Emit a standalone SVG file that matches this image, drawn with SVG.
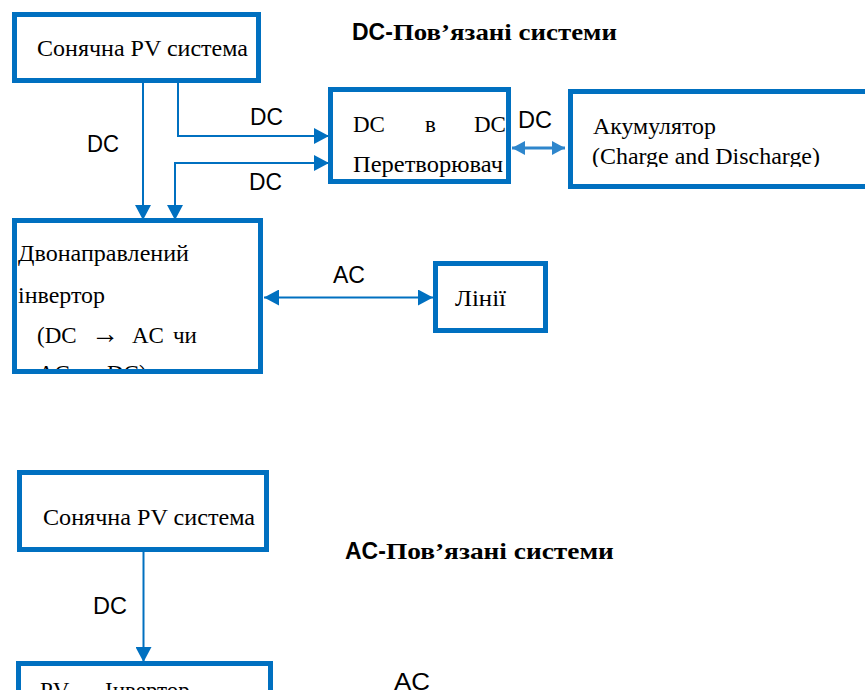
<svg xmlns="http://www.w3.org/2000/svg" width="865" height="690" viewBox="0 0 865 690">
<style>
.box{fill:#fff;stroke:#0070C0;stroke-width:5}
.ln{fill:none;stroke:#0070C0;stroke-width:2}
.ser{font-family:"Liberation Serif","DejaVu Serif","Times New Roman",serif;font-size:23px;fill:#000}
.sans{font-family:"Liberation Sans",Arial,sans-serif;font-size:23px;fill:#000}
.tb{font-family:"Liberation Serif","DejaVu Serif","Times New Roman",serif;font-weight:bold;font-size:23px;fill:#000}
.sb{font-family:"Liberation Sans",Arial,sans-serif;font-weight:bold;font-size:23px;fill:#000}
</style>
<defs>
<marker id="ah" markerUnits="userSpaceOnUse" markerWidth="16" markerHeight="16" viewBox="0 0 16 16" refX="15" refY="8" orient="auto-start-reverse">
<path d="M0,0 L15,8 L0,16 Z" fill="#0070C0"/>
</marker>
<marker id="ahs" markerUnits="userSpaceOnUse" markerWidth="14" markerHeight="14" viewBox="0 0 14 14" refX="13" refY="7" orient="auto-start-reverse">
<path d="M0,0 L13,7 L0,14 Z" fill="#2E86CC"/>
</marker>
<clipPath id="invClip"><rect x="17" y="223" width="241" height="146"/></clipPath>
<clipPath id="accClip"><rect x="573" y="94" width="300" height="73"/></clipPath>
<clipPath id="pvClip"><rect x="21" y="666" width="248" height="30"/></clipPath>
</defs>

<text class="sb" x="352" y="40">DC-<tspan class="tb" textLength="224" lengthAdjust="spacingAndGlyphs">Пов’язані системи</tspan></text>
<text class="sb" x="345" y="559">AC-<tspan class="tb" textLength="228" lengthAdjust="spacingAndGlyphs">Пов’язані системи</tspan></text>

<g id="connectors">
<line class="ln" x1="143" y1="83" x2="143" y2="220" marker-end="url(#ah)"/>
<polyline class="ln" points="178,83 178,136 329,136" marker-end="url(#ah)"/>
<polyline class="ln" points="329,163 175,163 175,220" marker-start="url(#ah)" marker-end="url(#ah)"/>
<line x1="512" y1="148" x2="565" y2="148" stroke="#2E86CC" stroke-width="3" marker-start="url(#ahs)" marker-end="url(#ahs)"/>
<line class="ln" x1="264" y1="297.5" x2="433" y2="297.5" marker-start="url(#ah)" marker-end="url(#ah)"/>
<line class="ln" x1="143.5" y1="552" x2="143.5" y2="662" marker-end="url(#ah)"/>
<text class="sans" x="87" y="152" textLength="32" lengthAdjust="spacingAndGlyphs">DC</text>
<text class="sans" x="250" y="125" textLength="33" lengthAdjust="spacingAndGlyphs">DC</text>
<text class="sans" x="249" y="190" textLength="33" lengthAdjust="spacingAndGlyphs">DC</text>
<text class="sans" x="518" y="128" textLength="34" lengthAdjust="spacingAndGlyphs">DC</text>
<text class="sans" x="333" y="283" textLength="32" lengthAdjust="spacingAndGlyphs">AC</text>
<text class="sans" x="93" y="614" textLength="34" lengthAdjust="spacingAndGlyphs">DC</text>
<text class="sans" x="394" y="690" textLength="36" lengthAdjust="spacingAndGlyphs">AC</text>
</g>

<g id="pv-top">
<rect class="box" x="14.5" y="14.5" width="244" height="66"/>
<text class="ser" x="37" y="56" textLength="211" lengthAdjust="spacingAndGlyphs">Сонячна PV система</text>
</g>

<g id="dcdc">
<rect class="box" x="330.5" y="89.5" width="178" height="92"/>
<text class="ser" x="353" y="132"><tspan x="353">DC</tspan><tspan x="425">в</tspan><tspan x="474">DC</tspan></text>
<text class="ser" x="353" y="172" textLength="150" lengthAdjust="spacingAndGlyphs">Перетворювач</text>
</g>

<g id="accumulator">
<rect class="box" x="570.5" y="91.5" width="320" height="95"/>
<text class="ser" x="593" y="134" textLength="123" lengthAdjust="spacingAndGlyphs">Акумулятор</text>
<g clip-path="url(#accClip)">
<text class="ser" x="592" y="164" textLength="228" lengthAdjust="spacingAndGlyphs">(Charge and Discharge)</text>
</g>
</g>

<g id="inverter">
<rect class="box" x="14.5" y="220.5" width="246" height="151"/>
<g clip-path="url(#invClip)">
<text class="ser" x="18" y="261" textLength="171" lengthAdjust="spacingAndGlyphs">Двонаправлений</text>
<text class="ser" x="18" y="303" textLength="87" lengthAdjust="spacingAndGlyphs">інвертор</text>
<text class="ser" y="343"><tspan x="37">(DC</tspan><tspan x="91" font-size="28">→</tspan><tspan x="132">AC</tspan><tspan x="173">чи</tspan></text>
<text class="ser" y="381"><tspan x="38">AC</tspan><tspan x="79" font-size="28">→</tspan><tspan x="107">DC)</tspan></text>
</g>
</g>

<g id="lines">
<rect class="box" x="435.5" y="263.5" width="110" height="67"/>
<text class="ser" x="455" y="306" textLength="51" lengthAdjust="spacingAndGlyphs">Лінії</text>
</g>

<g id="pv-bottom">
<rect class="box" x="19.5" y="472.5" width="247" height="77"/>
<text class="ser" x="43" y="525" textLength="212" lengthAdjust="spacingAndGlyphs">Сонячна PV система</text>
</g>

<g id="pv-inverter">
<rect class="box" x="18.5" y="663.5" width="252" height="60"/>
<g clip-path="url(#pvClip)">
<text class="ser" y="698"><tspan x="40">PV</tspan><tspan x="105">Інвертор</tspan></text>
</g>
</g>
</svg>
